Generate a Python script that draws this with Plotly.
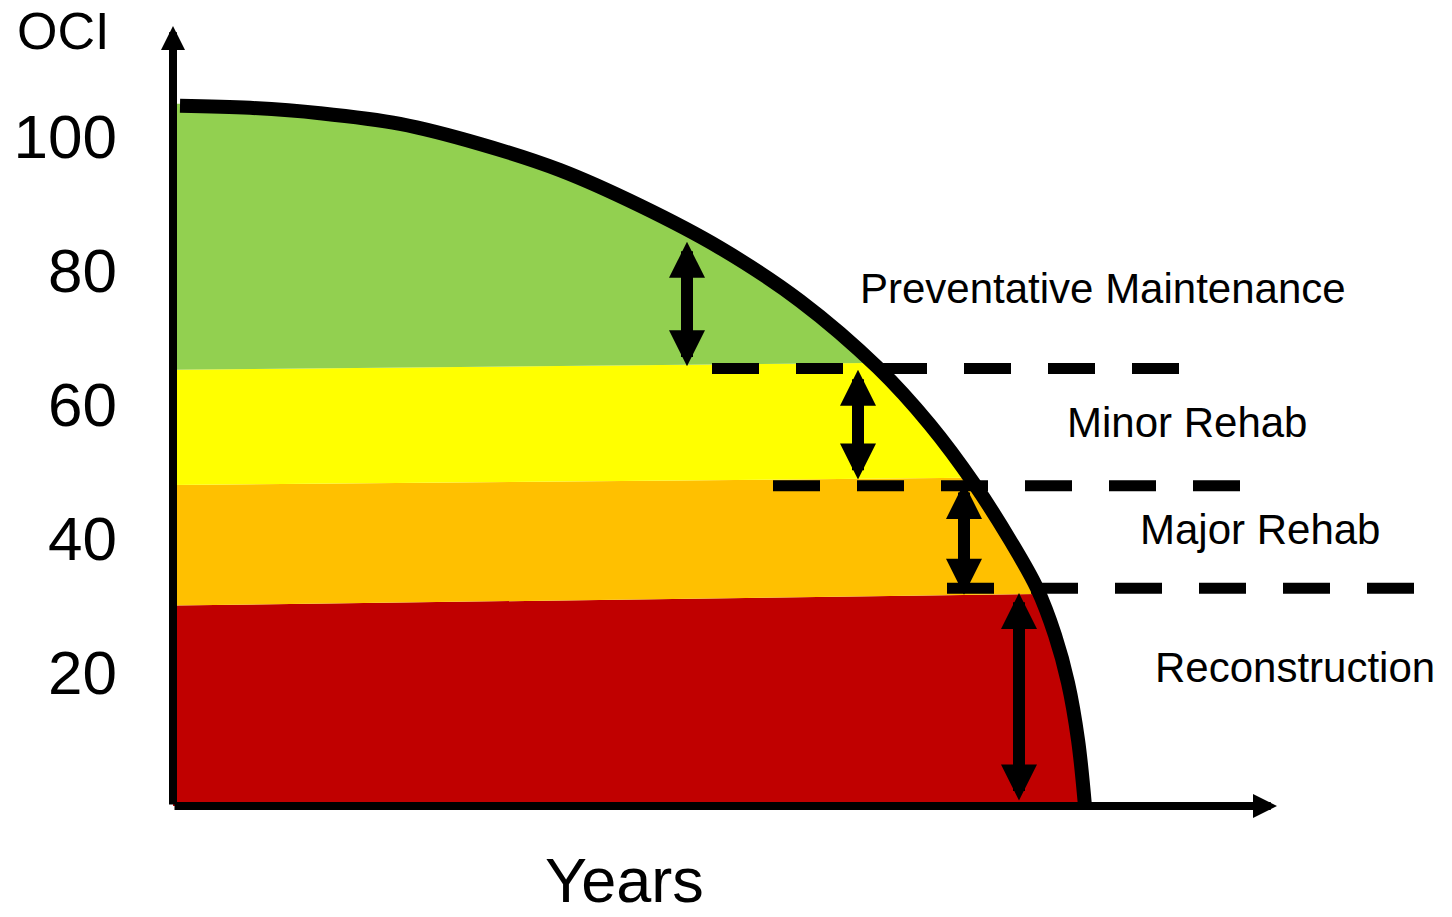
import plotly.graph_objects as go

# ---- data ----
# condition curve (x in arbitrary year units, y = OCI)
curve_x = [0.7, 7.7, 14.7, 22.7, 30.7, 38.7, 46.7, 54.7, 62.7, 70.5, 75.7, 80.2,
           83.7, 86.4, 88.2, 89.5, 90.5, 91.2]
curve_y = [104.5, 104.2, 103.4, 101.8, 98.8, 94.9, 89.6, 83.3, 75.4, 65.4, 56.9, 47.9,
           39.7, 32.5, 25.5, 18.4, 9.9, 0.0]

# coloured treatment bands: lower / upper OCI at the left edge and right edge
band_names = ["Reconstruction", "Major Rehab", "Minor Rehab", "Preventative Maintenance"]
band_colors = ["#C00000", "#FFC000", "#FFFF00", "#92D050"]
band_low_left = [0.0, 29.9, 47.9, 65.1]
band_low_right = [0.0, 31.8, 49.2, 66.5]
band_high_left = [29.9, 47.9, 65.1, 104.8]
band_high_right = [31.8, 49.2, 66.5, 104.8]
band_x_left = -0.4
band_x_right = 95.0

# dashed threshold lines
thr_y = [65.3, 47.8, 32.5]
thr_x0 = [53.9, 60.0, 77.4]
thr_x1 = [100.7, 106.7, 124.2]

# double-headed range arrows
arr_x = [51.4, 68.5, 79.1, 84.6]
arr_top = [84.2, 65.1, 48.2, 31.8]
arr_bot = [65.4, 48.5, 31.3, 0.6]

# labels
label_text = ["Preventative Maintenance", "Minor Rehab", "Major Rehab", "Reconstruction"]
label_x = [68.5, 89.2, 96.5, 98.0]
label_y = [77.3, 57.3, 41.2, 20.6]

tick_vals = [20, 40, 60, 80, 100]
tick_text = ["20", "40", "60", "80", "100"]

X_MAX = 126.9
Y_MAX = 117.31
FONT = "Liberation Sans, Arial, sans-serif"

fig = go.Figure()

# bands
for i in range(len(band_names)):
    xs = [band_x_left, band_x_right, band_x_right, band_x_left]
    ys = [band_low_left[i], band_low_right[i], band_high_right[i], band_high_left[i]]
    fig.add_trace(go.Scatter(x=xs, y=ys, fill="toself", fillcolor=band_colors[i],
                             mode="lines", line=dict(width=0), name=band_names[i],
                             hoverinfo="skip", showlegend=False))

# mask above/right of the curve (white)
fig.add_trace(go.Scatter(x=curve_x, y=curve_y, mode="lines",
                         line=dict(width=0, shape="spline", color="rgba(0,0,0,0)"),
                         hoverinfo="skip", showlegend=False))
fig.add_trace(go.Scatter(x=[curve_x[0], X_MAX + 5, X_MAX + 5],
                         y=[Y_MAX + 5, Y_MAX + 5, curve_y[-1]],
                         mode="lines", line=dict(width=0), fill="tonexty",
                         fillcolor="white", hoverinfo="skip", showlegend=False))

# dashed threshold lines
for y, x0, x1 in zip(thr_y, thr_x0, thr_x1):
    fig.add_trace(go.Scatter(x=[x0, x1], y=[y, y], mode="lines",
                             line=dict(color="black", width=11, dash="47px,37px"),
                             hoverinfo="skip", showlegend=False))

# condition curve
fig.add_trace(go.Scatter(x=curve_x, y=curve_y, mode="lines",
                         line=dict(color="black", width=14, shape="spline"),
                         hoverinfo="skip", showlegend=False))

annotations = []
# axes with arrowheads
annotations.append(dict(x=0, y=116.4, ax=0, ay=0, xref="x", yref="y", axref="x", ayref="y",
                        text="", showarrow=True, arrowhead=2, arrowsize=0.6, arrowwidth=8,
                        arrowcolor="black", standoff=0))
annotations.append(dict(x=110.4, y=0, ax=0, ay=0, xref="x", yref="y", axref="x", ayref="y",
                        text="", showarrow=True, arrowhead=2, arrowsize=0.6, arrowwidth=8,
                        arrowcolor="black", standoff=0))
# double arrows
for x, t, b in zip(arr_x, arr_top, arr_bot):
    annotations.append(dict(x=x, y=t, ax=x, ay=b, xref="x", yref="y", axref="x", ayref="y",
                            text="", showarrow=True, arrowhead=2, arrowsize=0.6,
                            startarrowhead=2, startarrowsize=0.6, arrowside="end+start",
                            arrowwidth=12, arrowcolor="black", standoff=0, startstandoff=0))
# treatment labels
for t, x, y in zip(label_text, label_x, label_y):
    annotations.append(dict(x=x, y=y, xref="x", yref="y", text=t, showarrow=False,
                            xanchor="left", yanchor="middle",
                            font=dict(family=FONT, size=42, color="black")))
# axis titles (paper coordinates, outside the plotting area)
annotations.append(dict(x=-11.0 / X_MAX, y=115.6 / Y_MAX, xref="paper", yref="paper",
                        text="OCI", showarrow=False, xanchor="center", yanchor="middle",
                        font=dict(family=FONT, size=52, color="black")))
annotations.append(dict(x=45.1 / X_MAX, y=-11.0 / Y_MAX, xref="paper", yref="paper",
                        text="Years", showarrow=False, xanchor="center", yanchor="middle",
                        font=dict(family=FONT, size=63, color="black")))

fig.update_layout(
    width=1452, height=917,
    margin=dict(l=173, r=10, t=20, b=111),
    paper_bgcolor="white", plot_bgcolor="white",
    showlegend=False,
    annotations=annotations,
    xaxis=dict(range=[0, X_MAX], showgrid=False, zeroline=False, showline=False,
               showticklabels=False, ticks=""),
    yaxis=dict(range=[0, Y_MAX], showgrid=False, zeroline=False, showline=False,
               tickvals=tick_vals, ticktext=tick_text, ticks="",
               tickfont=dict(family=FONT, size=62, color="black"),
               ticklabelstandoff=55),
)

# remove the default 8px page margin so the figure fills the window exactly
fig.write_html("out.html", config={"displayModeBar": False},
               post_script="document.body.style.margin='0';document.body.style.overflow='hidden';")
